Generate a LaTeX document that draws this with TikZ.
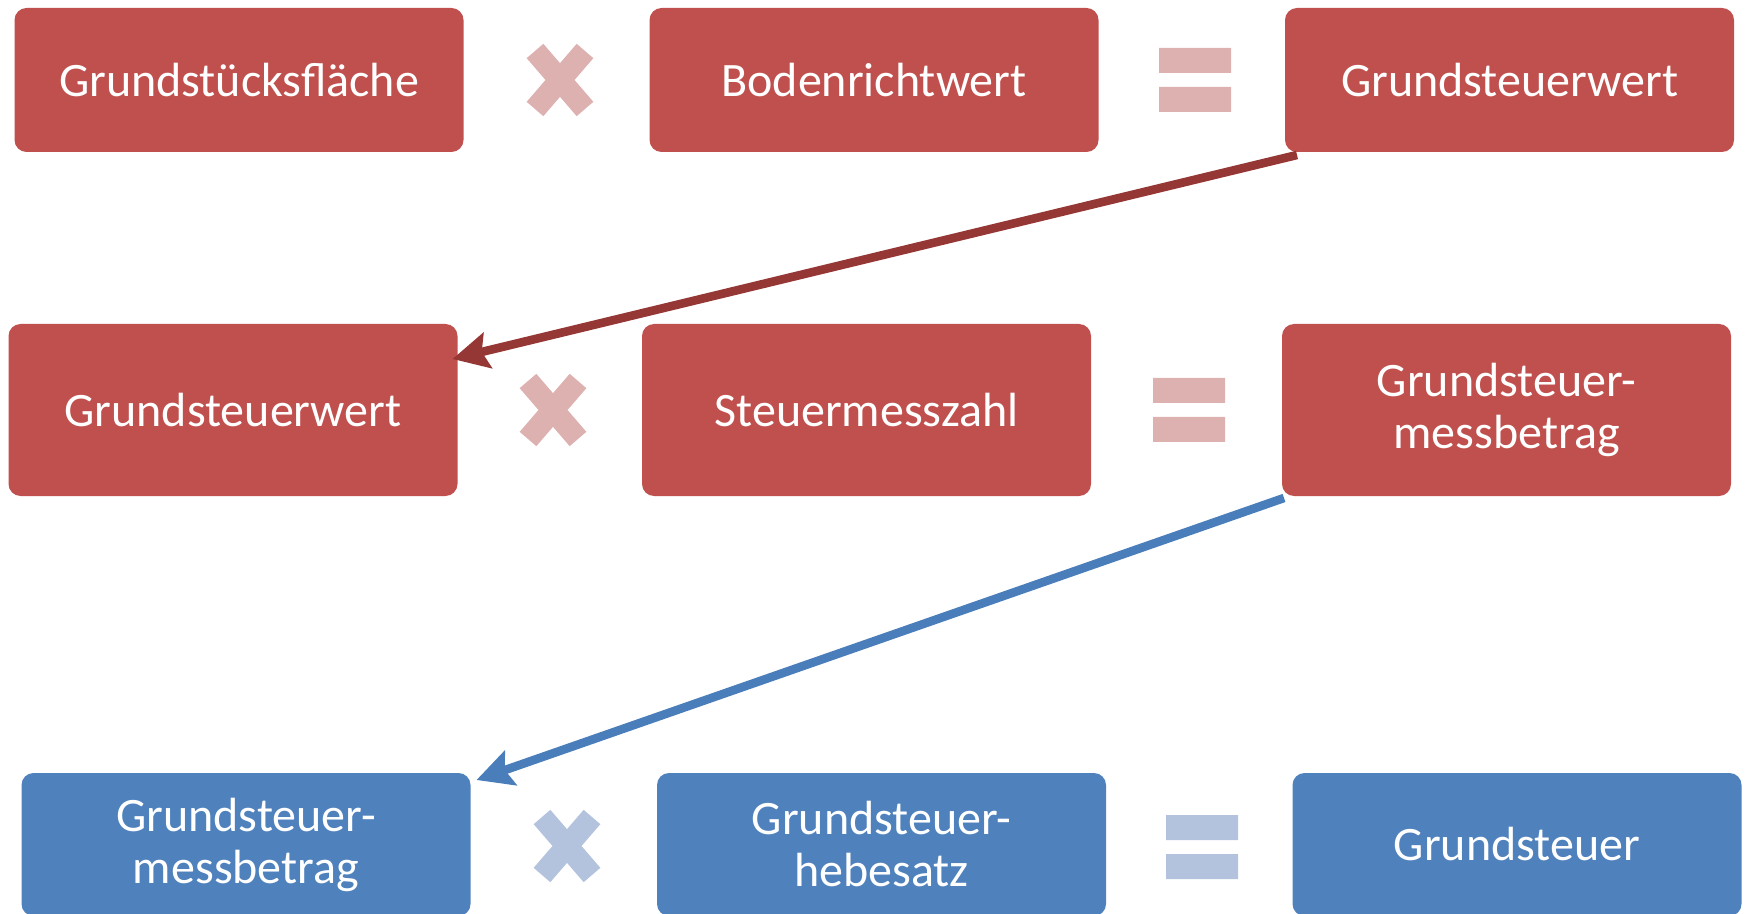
\documentclass[tikz,border=0pt]{standalone}
\usepackage{fontspec}
\setmainfont{Carlito}
\usetikzlibrary{arrows.meta}

\definecolor{boxred}{HTML}{C0504D}
\definecolor{boxblue}{HTML}{4F81BD}
\definecolor{oprred}{HTML}{DCB1B0}
\definecolor{oprblue}{HTML}{B3C3DE}
\definecolor{arrred}{HTML}{953735}
\definecolor{arrblue}{HTML}{4A7EBB}

\begin{document}
\begin{tikzpicture}[x=0.5pt, y=-0.5pt,
  termbox/.style={rectangle, rounded corners=6pt, inner sep=0pt, outer sep=0pt,
    minimum width=224.5pt, text=white, align=center,
    font=\fontsize{24}{26}\selectfont},
  redbox/.style={termbox, fill=boxred},
  bluebox/.style={termbox, fill=boxblue},
  shorttall/.style={minimum height=72pt},
  longtall/.style={minimum height=86pt},
  flowarrow/.style={line width=4.3pt, -{Stealth[length=18pt, width=18pt, inset=3pt]}},
  mulsign/.pic={\draw[line width=11pt, #1] (-25,-29) -- (25,29) (-25,29) -- (25,-29);},
  eqsign/.pic={\fill[#1] (-36,-32) rectangle (36,-7) (-36,7) rectangle (36,32);}
]
\useasboundingbox (0,0) rectangle (1745,914);

% first line: land value
\node[redbox, shorttall] (flaeche) at (239,80) {Grundstücksfläche};
\node[redbox, shorttall] (bodenrw) at (874,80) {Bodenrichtwert};
\node[redbox, shorttall] (gswert1) at (1509.5,80) {Grundsteuerwert};
\pic at (560,80) {mulsign=oprred};
\pic at (1195,80) {eqsign=oprred};

% second line: assessment amount
\node[redbox, longtall] (gswert2) at (233,410) {Grundsteuerwert};
\node[redbox, longtall] (messzahl) at (866.5,410) {Steuermesszahl};
\node[redbox, longtall] (messbetr1) at (1506.5,410) {Grundsteuer-\\messbetrag};
\pic at (553,410) {mulsign=oprred};
\pic at (1189,410) {eqsign=oprred};

% third line: property tax
\node[bluebox, minimum height=71.5pt] (messbetr2) at (246,844.5) {Grundsteuer-\\messbetrag};
\node[bluebox, minimum height=71.5pt] (hebesatz) at (881.5,844.5) {Grundsteuer-\\hebesatz};
\node[bluebox, minimum height=71.5pt] (steuer) at (1517,844.5) {Grundsteuer};
\pic at (567,846) {mulsign=oprblue};
\pic at (1202,847) {eqsign=oprblue};

% carry-over arrows
\draw[flowarrow, arrred] ([shift={(12,3)}]gswert1.south west) -- ([shift={(-5,35)}]gswert2.north east);
\draw[flowarrow, arrblue] ([shift={(2,2)}]messbetr1.south west) -- ([shift={(6,7)}]messbetr2.north east);
\end{tikzpicture}
\end{document}
